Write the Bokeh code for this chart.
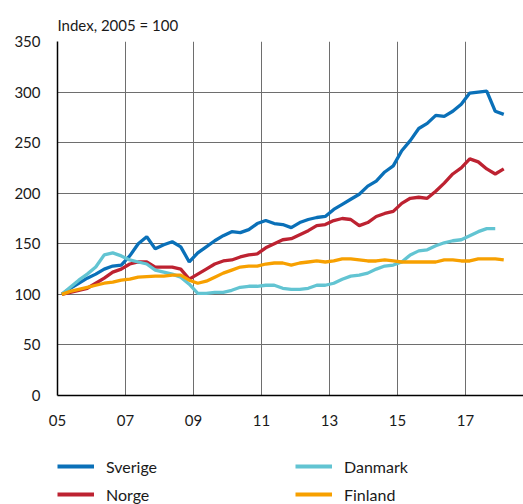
from bokeh.plotting import figure
from bokeh.layouts import column
from bokeh.models import FixedTicker, Legend, LegendItem, Range1d, Title
from bokeh.embed import file_html
from bokeh.resources import INLINE

# Quarterly data, 2005Q1 .. 2018Q1 (index 2005 = 100)
sverige = [100, 106, 111, 116, 120, 125, 128, 129, 138, 150, 157, 145, 149, 152, 147, 132,
           141, 147, 153, 158, 162, 161, 164, 170, 173, 170, 169, 166, 171, 174, 176, 177,
           184, 189, 194, 199, 207, 212, 221, 227, 242, 252, 264, 269, 277, 276, 281, 288,
           299, 300, 301, 281, 278]
norge = [100, 102, 104, 106, 111, 116, 122, 125, 130, 132, 132, 127, 127, 127, 125, 115,
         120, 125, 130, 133, 134, 137, 139, 140, 146, 150, 154, 155, 159, 163, 168, 169,
         173, 175, 174, 168, 171, 177, 180, 182, 190, 195, 196, 195, 202, 210, 219, 225,
         234, 231, 224, 219, 224]
danmark = [100, 107, 114, 120, 127, 139, 141, 138, 134, 132, 130, 124, 122, 120, 117, 110,
           101, 101, 102, 102, 104, 107, 108, 108, 109, 109, 106, 105, 105, 106, 109, 109,
           111, 115, 118, 119, 121, 125, 128, 129, 132, 139, 143, 144, 148, 151, 153, 154,
           158, 162, 165, 165]
finland = [100, 103, 105, 107, 109, 111, 112, 114, 115, 117, 117.5, 118, 118, 119, 119, 114,
           111, 113, 117, 121, 124, 127, 128, 128, 130, 131, 131, 129, 131, 132, 133, 132,
           133, 135, 135, 134, 133, 133, 134, 133, 132, 132, 132, 132, 132, 134, 134, 133,
           133, 135, 135, 135, 134]

start_year = 2005
tick_years = [2005, 2007, 2009, 2011, 2013, 2015, 2017]
tick_labels = ["05", "07", "09", "11", "13", "15", "17"]
y_ticks = [0, 50, 100, 150, 200, 250, 300, 350]
subtitle = "Index, 2005 = 100"
series_names = ["Sverige", "Norge", "Danmark", "Finland"]
colors = {"Sverige": "#0a70b8", "Norge": "#bd2231", "Danmark": "#62c4d2", "Finland": "#f7a000"}


def quarters(n):
    return [start_year + 0.125 + 0.25 * i for i in range(n)]


FONT = "Lato"
TXT = "#1a1a1a"
data = {"Sverige": sverige, "Norge": norge, "Danmark": danmark, "Finland": finland}

# ---------------- main chart ----------------
p = figure(width=523, height=435, output_backend="svg", toolbar_location=None,
           x_range=Range1d(2005, 2005 + 466 / 34), y_range=Range1d(0, 350),
           min_border_left=57, min_border_right=0, min_border_top=41, min_border_bottom=40)
p.outline_line_color = None
p.background_fill_color = "white"
p.border_fill_color = "white"

t = Title(text=subtitle, text_font=FONT, text_font_size="15px", text_font_style="normal",
          text_color=TXT, align="left", offset=0, standoff=15)
p.add_layout(t, "above")

for name in series_names:
    vals = data[name]
    p.line(quarters(len(vals)), vals, line_color=colors[name], line_width=3.3)

for ax in (p.xaxis[0], p.yaxis[0]):
    ax.axis_line_color = "black"
    ax.axis_line_width = 1.5
    ax.major_tick_line_color = None
    ax.minor_tick_line_color = None
    ax.major_tick_out = 0
    ax.major_tick_in = 0
    ax.minor_tick_out = 0
    ax.minor_tick_in = 0
    ax.major_label_text_font = FONT
    ax.major_label_text_font_size = "15px"
    ax.major_label_text_color = TXT

p.xaxis[0].ticker = FixedTicker(ticks=tick_years)
p.xaxis[0].major_label_overrides = {y: l for y, l in zip(tick_years, tick_labels)}
p.xaxis[0].major_label_standoff = 19
p.yaxis[0].ticker = FixedTicker(ticks=y_ticks)
p.yaxis[0].major_label_standoff = 17

p.xgrid.ticker = FixedTicker(ticks=tick_years)
p.ygrid.ticker = FixedTicker(ticks=y_ticks)
for g in (p.xgrid[0], p.ygrid[0]):
    g.grid_line_color = "#6e6e6e"
    g.grid_line_width = 1

# ---------------- legend strip ----------------
# (its frame is aligned with the chart's frame by the column layout)
lg = figure(width=523, height=69, output_backend="svg", toolbar_location=None,
            x_axis_type=None, y_axis_type=None, x_range=Range1d(0, 1), y_range=Range1d(0, 1),
            min_border=0, min_border_left=0, min_border_right=0, min_border_top=0,
            min_border_bottom=0)
lg.outline_line_color = None
lg.xgrid.visible = False
lg.ygrid.visible = False
# legend proxies: the same series, drawn outside this strip's visible ranges
proxies = {name: lg.line(quarters(len(data[name])), data[name], line_color=colors[name],
                         line_width=4)
           for name in series_names}


def make_legend(names, x):
    return Legend(items=[LegendItem(label=n, renderers=[proxies[n]]) for n in names],
                  orientation="vertical", location=(x, 0),
                  glyph_width=37, glyph_height=20, label_height=20, label_width=20,
                  label_standoff=12, spacing=8, padding=0, margin=0,
                  border_line_color=None, background_fill_alpha=0,
                  label_text_font=FONT, label_text_font_size="16px", label_text_color=TXT)


lg.add_layout(make_legend(["Sverige", "Norge"], 0), "center")
lg.add_layout(make_legend(["Danmark", "Finland"], 238), "center")

layout = column(p, lg, spacing=0)
open("out.html", "w").write(file_html(layout, INLINE))
